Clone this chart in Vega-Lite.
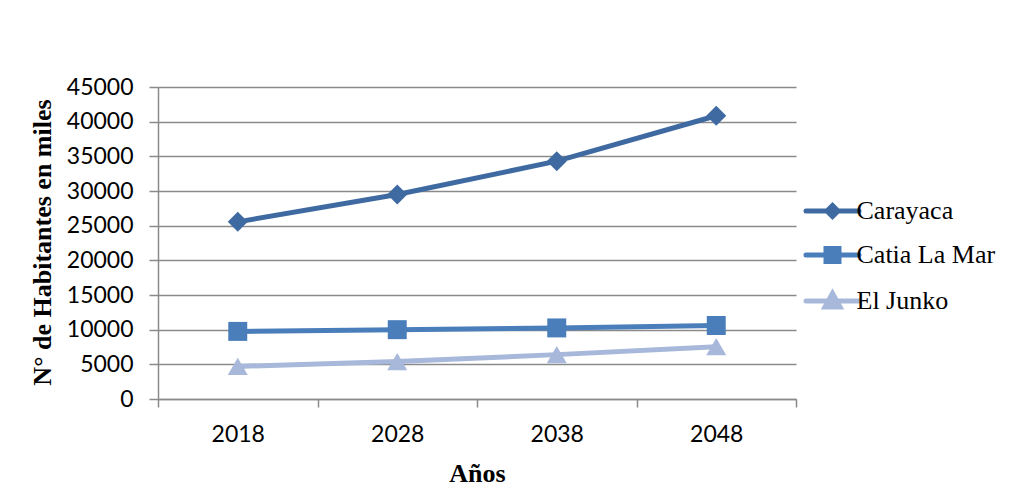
{
  "$schema": "https://vega.github.io/schema/vega-lite/v6.json",
  "width": 638,
  "height": 312,
  "autosize": {"type": "none"},
  "padding": {"left": 158, "top": 87, "right": 220, "bottom": 93},
  "background": "white",
  "data": {
    "values": [
      {"serie": "Carayaca", "anio": "2018", "hab": 25550},
      {"serie": "Carayaca", "anio": "2028", "hab": 29500},
      {"serie": "Carayaca", "anio": "2038", "hab": 34300},
      {"serie": "Carayaca", "anio": "2048", "hab": 40850},
      {"serie": "Catia La Mar", "anio": "2018", "hab": 9750},
      {"serie": "Catia La Mar", "anio": "2028", "hab": 10000},
      {"serie": "Catia La Mar", "anio": "2038", "hab": 10250},
      {"serie": "Catia La Mar", "anio": "2048", "hab": 10600},
      {"serie": "El Junko", "anio": "2018", "hab": 4700},
      {"serie": "El Junko", "anio": "2028", "hab": 5400},
      {"serie": "El Junko", "anio": "2038", "hab": 6400},
      {"serie": "El Junko", "anio": "2048", "hab": 7550}
    ]
  },
  "encoding": {
    "x": {
      "field": "anio",
      "type": "ordinal",
      "bandPosition": 0.5,
      "scale": {"type": "band", "paddingInner": 0, "paddingOuter": 0},
      "axis": {
        "title": "Años",
        "titleFont": "Liberation Serif",
        "titleFontSize": 26,
        "titleFontWeight": "bold",
        "titleColor": "#000000",
        "titleY": 74,
        "titleBaseline": "middle",
        "labelFont": "Lato",
        "labelFontSize": 23,
        "labelColor": "#000000",
        "labelAngle": 0,
        "labelPadding": 16,
        "tickBand": "extent",
        "tickSize": 8,
        "tickWidth": 1.5,
        "tickColor": "#8a8a8a",
        "domainColor": "#8a8a8a",
        "domainWidth": 1.5,
        "grid": false
      }
    },
    "y": {
      "field": "hab",
      "type": "quantitative",
      "scale": {"domain": [0, 45000], "nice": false},
      "axis": {
        "title": "N° de Habitantes en miles",
        "titleFont": "Liberation Serif",
        "titleFontSize": 26,
        "titleFontWeight": "bold",
        "titleColor": "#000000",
        "titleX": -116,
        "titleY": 155,
        "titleBaseline": "middle",
        "titleAlign": "center",
        "values": [0, 5000, 10000, 15000, 20000, 25000, 30000, 35000, 40000, 45000],
        "format": "d",
        "labelFont": "Lato",
        "labelFontSize": 23,
        "labelColor": "#000000",
        "labelPadding": 16,
        "tickSize": 9,
        "tickWidth": 1.5,
        "tickColor": "#8a8a8a",
        "domainColor": "#8a8a8a",
        "domainWidth": 1.5,
        "grid": true,
        "gridColor": "#8a8a8a",
        "gridWidth": 1.5
      }
    },
    "color": {
      "field": "serie",
      "type": "nominal",
      "scale": {
        "domain": ["Carayaca", "Catia La Mar", "El Junko"],
        "range": ["#3E6AA1", "#4A7EBB", "#A7B8DA"]
      },
      "legend": {
        "title": null,
        "orient": "none",
        "legendX": 661.5,
        "legendY": 111,
        "padding": 0,
        "symbolSize": 400,
        "symbolOffset": 0,
        "labelOffset": 11,
        "labelFont": "Liberation Serif",
        "labelFontSize": 26,
        "labelColor": "#000000",
        "rowPadding": 11,
        "encode": {
          "symbols": {
            "update": {
              "shape": {"signal": "datum.value === 'Carayaca' ? 'M-2.65,0L2.65,0M0,-0.55L0.55,0L0,0.55L-0.55,0Z' : datum.value === 'Catia La Mar' ? 'M-2.65,0L2.65,0M-0.65,-0.65L0.65,-0.65L0.65,0.65L-0.65,0.65Z' : 'M-2.65,0L2.65,0M0,-0.75L0.75,0.6L-0.75,0.6Z'"},
              "fill": {"signal": "scale('color', datum.value)"},
              "stroke": {"signal": "scale('color', datum.value)"},
              "strokeWidth": {"value": 5},
              "strokeCap": {"value": "round"},
              "opacity": {"value": 1},
              "fillOpacity": {"value": 1}
            }
          }
        }
      }
    }
  },
  "layer": [
    {"mark": {"type": "line", "strokeWidth": 5}},
    {
      "transform": [{"filter": "datum.serie === 'Carayaca'"}],
      "mark": {"type": "point", "shape": "diamond", "filled": true, "opacity": 1, "size": 400}
    },
    {
      "transform": [{"filter": "datum.serie === 'Catia La Mar'"}],
      "mark": {"type": "point", "shape": "square", "filled": true, "opacity": 1, "size": 360}
    },
    {
      "transform": [{"filter": "datum.serie === 'El Junko'"}],
      "mark": {"type": "point", "shape": "triangle-up", "filled": true, "opacity": 1, "size": 400}
    }
  ],
  "config": {"view": {"stroke": null}}
}
